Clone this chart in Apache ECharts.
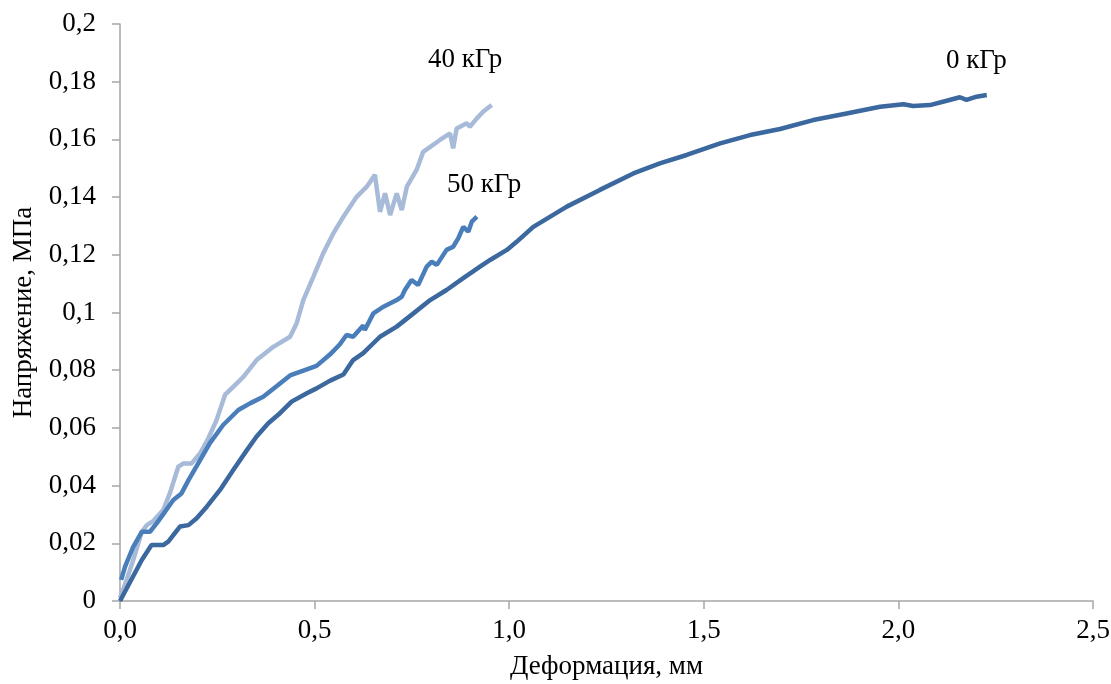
<!DOCTYPE html>
<html>
<head>
<meta charset="utf-8">
<script src="https://cdn.jsdelivr.net/npm/echarts@6/dist/echarts.min.js"></script>
<style>
  html, body { margin: 0; padding: 0; background: #fff; }
  #chart { width: 1111px; height: 684px; }
</style>
</head>
<body>
<div id="chart"></div>
<script>
// [деформация, мм ; напряжение, МПа]
const dose0 = [
  [0, 0], [0.056, 0.0142], [0.081, 0.0194], [0.111, 0.0194], [0.124, 0.0206],
  [0.154, 0.0258], [0.176, 0.0263], [0.197, 0.0287], [0.223, 0.0327], [0.257, 0.0385],
  [0.291, 0.0454], [0.326, 0.0523], [0.351, 0.057], [0.381, 0.0616], [0.411, 0.0651],
  [0.441, 0.0691], [0.48, 0.072], [0.505, 0.0737], [0.54, 0.0764], [0.574, 0.0785],
  [0.599, 0.0835], [0.625, 0.0859], [0.668, 0.0916], [0.711, 0.0951], [0.754, 0.0997],
  [0.797, 0.1043], [0.839, 0.1078], [0.882, 0.1119], [0.925, 0.1159], [0.951, 0.1182],
  [0.994, 0.1217], [1.019, 0.1245], [1.062, 0.1297], [1.148, 0.1367], [1.233, 0.1425],
  [1.319, 0.1482], [1.387, 0.1517], [1.456, 0.1546], [1.542, 0.1586], [1.619, 0.1615],
  [1.696, 0.1636], [1.781, 0.1667], [1.867, 0.169], [1.953, 0.1713], [2.013, 0.1722],
  [2.038, 0.1716], [2.081, 0.1719], [2.124, 0.1734], [2.158, 0.1746], [2.175, 0.1737],
  [2.201, 0.1748], [2.227, 0.1754]
];
const dose50 = [
  [0.003, 0.0073], [0.013, 0.0119], [0.034, 0.0188], [0.056, 0.024], [0.077, 0.024],
  [0.094, 0.0269], [0.116, 0.031], [0.137, 0.035], [0.158, 0.0373], [0.176, 0.0419],
  [0.201, 0.0477], [0.231, 0.0547], [0.265, 0.061], [0.304, 0.0662], [0.334, 0.0685],
  [0.368, 0.0708], [0.403, 0.0745], [0.437, 0.0782], [0.48, 0.0803], [0.505, 0.0815],
  [0.54, 0.0855], [0.565, 0.089], [0.582, 0.0922], [0.599, 0.0916], [0.625, 0.0955],
  [0.629, 0.0939], [0.651, 0.0997], [0.677, 0.102], [0.711, 0.1043], [0.724, 0.1055],
  [0.732, 0.1078], [0.749, 0.1113], [0.766, 0.1095], [0.788, 0.1159], [0.801, 0.1176],
  [0.814, 0.1165], [0.839, 0.1217], [0.856, 0.1228], [0.869, 0.1257], [0.882, 0.1297],
  [0.895, 0.128], [0.904, 0.1315], [0.917, 0.1332]
];
const dose40 = [
  [0, 0.001], [0.017, 0.0073], [0.034, 0.0142], [0.056, 0.024], [0.069, 0.0263],
  [0.086, 0.0278], [0.111, 0.0315], [0.128, 0.0373], [0.15, 0.0466], [0.163, 0.0477],
  [0.184, 0.0477], [0.206, 0.0512], [0.227, 0.0564], [0.248, 0.0627], [0.27, 0.0715],
  [0.287, 0.0737], [0.317, 0.0777], [0.351, 0.0835], [0.394, 0.0881], [0.437, 0.0916],
  [0.454, 0.0963], [0.471, 0.1043], [0.497, 0.1124], [0.522, 0.1205], [0.548, 0.1274],
  [0.574, 0.1332], [0.608, 0.1401], [0.634, 0.1436], [0.655, 0.1477], [0.668, 0.1349],
  [0.681, 0.1413], [0.694, 0.1338], [0.711, 0.1413], [0.724, 0.1355], [0.737, 0.1436],
  [0.762, 0.1494], [0.779, 0.1557], [0.822, 0.1598], [0.848, 0.1621], [0.856, 0.1569],
  [0.865, 0.1638], [0.891, 0.1656], [0.899, 0.1644], [0.917, 0.1673], [0.933, 0.1696],
  [0.955, 0.1719]
];
const seriesNames = ['40 кГр', '50 кГр', '0 кГр'];

const font = '"Liberation Serif", "Times New Roman", serif';
const fs = 27;
const axisGray = '#a6a6a6';
const comma = v => String(Math.round(v * 1000) / 1000).replace('.', ',');

const chart = echarts.init(document.getElementById('chart'));
chart.setOption({
  animation: false,
  backgroundColor: '#fff',
  grid: { left: 120, right: 18, top: 24, bottom: 83, outerBoundsMode: 'none', containLabel: false },
  xAxis: {
    type: 'value',
    min: 0,
    max: 2.5,
    interval: 0.5,
    name: 'Деформация, мм',
    nameLocation: 'middle',
    nameGap: 52,
    nameTextStyle: { fontFamily: font, fontSize: fs, color: '#000' },
    axisLine: { lineStyle: { color: axisGray, width: 1.5 } },
    axisTick: { show: true, length: 8, lineStyle: { color: axisGray, width: 1.5 } },
    axisLabel: {
      margin: 16,
      fontFamily: font,
      fontSize: fs,
      color: '#000',
      formatter: v => v.toFixed(1).replace('.', ',')
    },
    splitLine: { show: false }
  },
  yAxis: {
    type: 'value',
    min: 0,
    max: 0.2,
    interval: 0.02,
    name: 'Напряжение, МПа',
    nameLocation: 'middle',
    nameGap: 80,
    nameTextStyle: { fontFamily: font, fontSize: fs, color: '#000' },
    axisLine: { show: true, lineStyle: { color: axisGray, width: 1.5 } },
    axisTick: { show: true, length: 8, lineStyle: { color: axisGray, width: 1.5 } },
    axisLabel: {
      margin: 24,
      fontFamily: font,
      fontSize: fs,
      color: '#000',
      formatter: comma
    },
    splitLine: { show: false }
  },
  series: [
    {
      name: seriesNames[0],
      type: 'line',
      data: dose40,
      showSymbol: false,
      lineStyle: { color: '#a7bbd9', width: 4.5 },
      z: 1
    },
    {
      name: seriesNames[1],
      type: 'line',
      data: dose50,
      showSymbol: false,
      lineStyle: { color: '#4a7ebb', width: 4.5 },
      z: 2
    },
    {
      name: seriesNames[2],
      type: 'line',
      data: dose0,
      showSymbol: false,
      lineStyle: { color: '#3b689e', width: 4.5 },
      z: 3
    }
  ],
  graphic: [
    { type: 'text', left: 428, top: 46, style: { text: seriesNames[0], font: fs + 'px ' + font, fill: '#000' } },
    { type: 'text', left: 447, top: 171, style: { text: seriesNames[1], font: fs + 'px ' + font, fill: '#000' } },
    { type: 'text', left: 946, top: 47, style: { text: seriesNames[2], font: fs + 'px ' + font, fill: '#000' } }
  ]
});
</script>
</body>
</html>
